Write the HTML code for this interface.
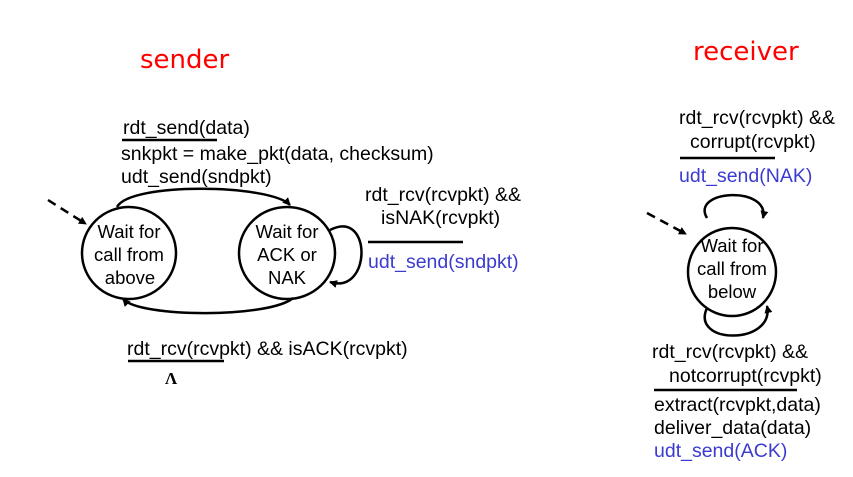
<!DOCTYPE html>
<html><head><meta charset="utf-8"><style>
html,body{margin:0;padding:0;background:#fff;}
svg{display:block;}
text{font-family:"Liberation Sans",sans-serif;font-size:19.5px;fill:#000;}
.c{font-size:18.5px;}
.b{fill:#3b3bd0;}
.r{font-family:"DejaVu Sans",sans-serif;font-size:26px;fill:#f00;}
</style></head><body>
<svg width="853" height="477" viewBox="0 0 853 477" xmlns="http://www.w3.org/2000/svg">
<defs><marker id="a" markerWidth="8" markerHeight="8" refX="7" refY="4" orient="auto" markerUnits="userSpaceOnUse"><path d="M0,0 L8,4 L0,8 z" fill="#000"/></marker></defs>
<text class="r" x="140" y="68">sender</text>
<text class="r" x="693" y="60">receiver</text>
<g fill="none" stroke="#000" stroke-width="2.5">
<ellipse cx="129" cy="253" rx="47" ry="46"/>
<ellipse cx="287" cy="253" rx="48" ry="46"/>
<ellipse cx="732" cy="272" rx="44" ry="44"/>
<path d="M117,207 C130,182 270,184 290,205" marker-end="url(#a)"/>
<path d="M293,298 C270,318 140,318 123,299" marker-end="url(#a)"/>
<path d="M330,230 C372,208 372,295 330,282" marker-end="url(#a)"/>
<path d="M707,218 C690,190 770,185 763,218" marker-end="url(#a)"/>
<path d="M707,308 C690,345 775,345 767,306" marker-end="url(#a)"/>
<path d="M48,200 L86,224" stroke-dasharray="9,6" marker-end="url(#a)"/>
<path d="M647,213 L686,234" stroke-dasharray="9,6" marker-end="url(#a)"/>
<path d="M122,140 H217 M368,242 H463 M128,361 H224 M680,158 H775 M654,390 H797"/>
</g>
<text class="c" x="129" y="238" text-anchor="middle">Wait for</text>
<text class="c" x="129" y="261" text-anchor="middle">call from</text>
<text class="c" x="130" y="284" text-anchor="middle">above</text>
<text class="c" x="287" y="238" text-anchor="middle">Wait for</text>
<text class="c" x="287" y="261" text-anchor="middle">ACK or</text>
<text class="c" x="287" y="284" text-anchor="middle">NAK</text>
<text class="c" x="732" y="252" text-anchor="middle">Wait for</text>
<text class="c" x="732" y="275" text-anchor="middle">call from</text>
<text class="c" x="732" y="298" text-anchor="middle">below</text>
<text x="123" y="134">rdt_send(data)</text>
<text x="121" y="160">snkpkt = make_pkt(data, checksum)</text>
<text x="121" y="183">udt_send(sndpkt)</text>
<text x="365" y="201">rdt_rcv(rcvpkt) &amp;&amp;</text>
<text x="381" y="224">isNAK(rcvpkt)</text>
<text class="b" x="368" y="268">udt_send(sndpkt)</text>
<text x="127" y="355">rdt_rcv(rcvpkt) &amp;&amp; isACK(rcvpkt)</text>
<text x="165" y="384" style="font-family:'Liberation Serif',serif;font-size:17px;font-weight:bold">Λ</text>
<text x="679" y="124">rdt_rcv(rcvpkt) &amp;&amp;</text>
<text x="690" y="148">corrupt(rcvpkt)</text>
<text class="b" x="679" y="182">udt_send(NAK)</text>
<text x="652" y="358">rdt_rcv(rcvpkt) &amp;&amp;</text>
<text x="669" y="382">notcorrupt(rcvpkt)</text>
<text x="654" y="411">extract(rcvpkt,data)</text>
<text x="654" y="434">deliver_data(data)</text>
<text class="b" x="654" y="457">udt_send(ACK)</text>
</svg>
</body></html>
